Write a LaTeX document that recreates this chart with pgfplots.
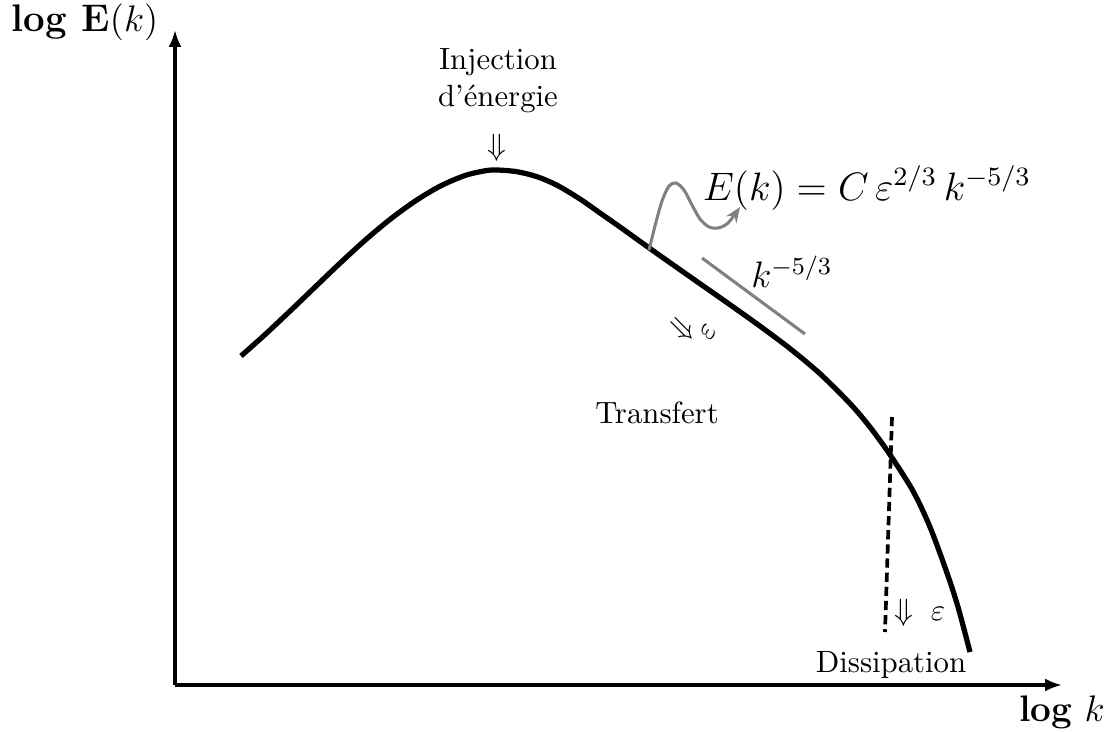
\documentclass[border=0pt]{standalone}
\usepackage{pgfplots}
\pgfplotsset{compat=1.18}
\usetikzlibrary{arrows.meta}

\begin{document}
\begin{tikzpicture}
\begin{axis}[
  x=0.325pt, y=0.325pt,
  xmin=175, xmax=1062, ymin=46, ymax=701,
  axis lines=left,
  axis line style={line width=1pt, -{Latex[length=5.5pt,width=4.2pt]}},
  xtick=\empty, ytick=\empty,
  clip=false,
]
% corners of the page
\coordinate (bbA) at (axis cs:0,0);
\coordinate (bbB) at (axis cs:1116,731);

% energy spectrum
\addplot[black, line width=1.7pt, smooth] coordinates {
  (241,375) (265,396.4) (290,419.9) (315,443.9) (340,467.8) (365,490.7)
  (390,511.6) (415,529.8) (440,544.8) (465,555.5) (485,560.2) (497,561)
  (517,559.3) (537,554.3) (557,545.8) (580,532) (600,518) (620,504)
  (649,483.2) (680,461.3) (700,447.3) (730,426.3) (760,404.9) (790,382.4)
  (820,357.3) (850,327.5) (870,303.9) (890,276.3) (913,240) (930,204)
  (947,158) (958,124) (970,79)
};

% k^{-5/3} guide
\addplot[gray, line width=1pt] coordinates {(702,473) (805,397)};

% wavy pointer to the formula
\addplot[gray, line width=1pt, smooth, -{Stealth[length=5pt,width=4pt]}] coordinates {
  (649,481) (655,505) (662,530) (669,545) (676,548) (684,541) (692,526)
  (700,512) (709,504) (718,503) (728,508) (740,524)
};

% dissipation cut
\addplot[black, line width=1.2pt, dash pattern=on 3pt off 1.6pt] coordinates {(892,314) (885,99)};

% labels
\node[font=\fontsize{12.5}{15}\selectfont] at (axis cs:85,709) {\textbf{log E}$\mathbf{(}k\mathbf{)}$};
\node[font=\large] at (axis cs:1062,19) {\textbf{log} $k$};
\node[align=center] at (axis cs:498,650) {Injection\\d'énergie};
\node at (axis cs:497,583) {$\Downarrow$};
\node[font=\large] at (axis cs:867,543) {\scalebox{1.075}{$E(k) = C\,\varepsilon^{2/3}\,k^{-5/3}$}};
\node[font=\large] at (axis cs:792,459) {$k^{-5/3}$};
\node at (axis cs:692,402) {\rotatebox{45}{$\Downarrow$}\rotatebox{60}{$\varepsilon$}};
\node at (axis cs:657,318) {Transfert};
\node at (axis cs:920,118) {$\Downarrow\;\varepsilon$};
\node at (axis cs:891,66) {Dissipation};
\end{axis}
\pgfresetboundingbox
\path (bbA) rectangle (bbB);
\end{tikzpicture}
\end{document}
